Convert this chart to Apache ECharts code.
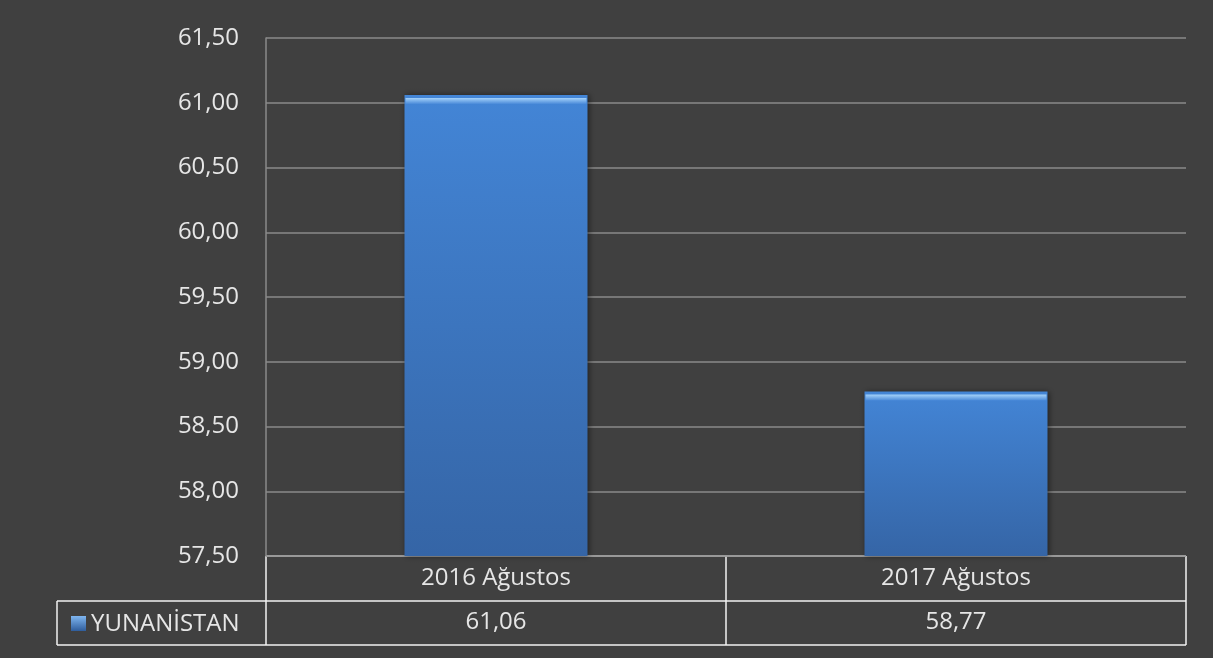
<!DOCTYPE html>
<html><head><meta charset="utf-8">
<script src="https://cdn.jsdelivr.net/npm/echarts@6/dist/echarts.min.js"></script>
<style>html,body{margin:0;padding:0;background:#404040}#c{width:1213px;height:658px}</style>
</head><body><div id="c"></div>
<script>
const categories = ['2016 Ağustos', '2017 Ağustos'];
const seriesName = 'YUNANİSTAN';
const values = [61.06, 58.77];
const yMin = 57.5, yMax = 61.5, yStep = 0.5;

const fmt = v => v.toFixed(2).replace('.', ',');
const FONT = '"Open Sans", "Noto Sans", sans-serif';
const TXT = '#e6e6e6';
const FS = 24;
const L = 266, R = 27, T = 38, B = 102;
const W = 1213, H = 658;
const axisY = H - B;           // 556
const row1 = axisY + 45;       // 601
const row2 = axisY + 89;       // 645
const tableLeft = 57;

const chart = echarts.init(document.getElementById('c'));
const barGrad = new echarts.graphic.LinearGradient(0, 0, 0, 1, [
  {offset: 0, color: '#4385d6'}, {offset: 1, color: '#3565a6'}
]);
const line = (x1, y1, x2, y2) => ({type: 'line', shape: {x1, y1, x2, y2}, style: {stroke: '#f2f2f2', lineWidth: 1.5}, silent: true});
chart.setOption({
  backgroundColor: '#404040',
  animation: false,
  grid: {left: L, right: R, top: T, bottom: B},
  xAxis: [{
    type: 'category', data: categories,
    axisLine: {show: false},
    axisTick: {show: false},
    axisLabel: {color: TXT, fontSize: FS, fontFamily: FONT, margin: 10}
  }, {
    type: 'category', data: values.map(fmt), position: 'bottom', offset: 44,
    axisLine: {show: false}, axisTick: {show: false},
    axisLabel: {color: TXT, fontSize: FS, fontFamily: FONT, margin: 10}
  }],
  yAxis: {
    type: 'value', min: yMin, max: yMax, interval: yStep,
    axisLine: {show: true, lineStyle: {color: '#8a8a8a', width: 1.5}},
    axisTick: {show: false},
    splitLine: {lineStyle: {color: '#8a8a8a', width: 1.5}},
    axisLabel: {color: TXT, fontSize: FS, fontFamily: FONT, margin: 27, formatter: v => fmt(v)}
  },
  series: [{
    type: 'bar', name: seriesName, data: values, barWidth: 183,
    itemStyle: {color: barGrad, shadowColor: 'rgba(0,0,0,0.5)', shadowBlur: 6, shadowOffsetX: 1},
    z: 2
  }, {
    type: 'pictorialBar', data: values, symbol: 'rect', symbolSize: [181, 6],
    symbolPosition: 'end', symbolOffset: [0, '50%'], barGap: '-100%',
    itemStyle: {color: new echarts.graphic.LinearGradient(0, 0, 0, 1, [
      {offset: 0, color: '#a4d2fa'}, {offset: 1, color: '#4a8ad9'}
    ])},
    z: 3, silent: true
  }],
  graphic: [
    line(L, axisY, W - R, axisY),
    line(tableLeft, row1, W - R, row1),
    line(tableLeft, row2, W - R, row2),
    line(tableLeft, row1, tableLeft, row2),
    line(L, axisY, L, row2),
    line(L + (W - R - L) / 2, axisY, L + (W - R - L) / 2, row2),
    line(W - R, axisY, W - R, row2),
    {type: 'rect', shape: {x: 71, y: 616, width: 15, height: 15},
     style: {fill: new echarts.graphic.LinearGradient(0, 0, 0, 1, [{offset: 0, color: '#7fb6f0'}, {offset: 1, color: '#2f5d9c'}])}},
    {type: 'text', x: 91, y: 624, style: {text: seriesName, fill: TXT, font: '24px ' + FONT, verticalAlign: 'middle'}}
  ]
});
</script></body></html>
